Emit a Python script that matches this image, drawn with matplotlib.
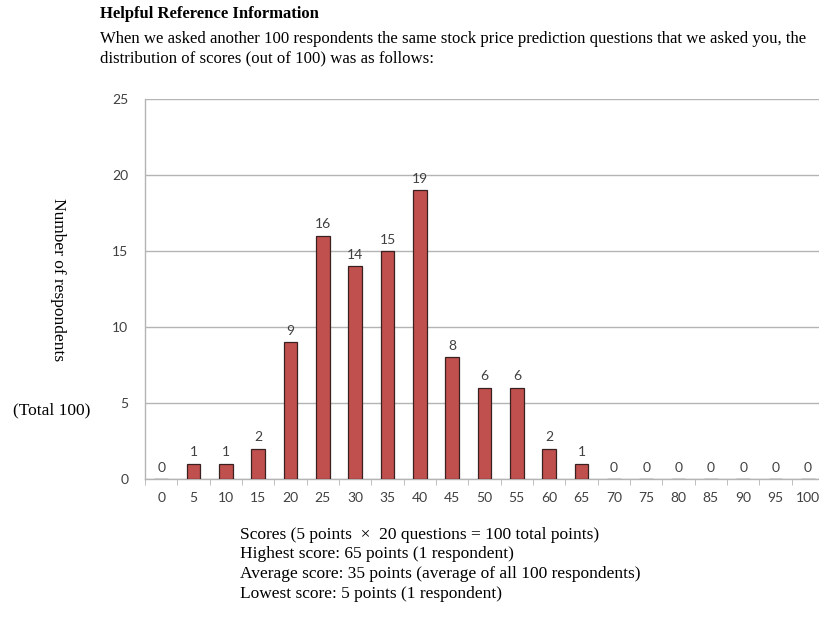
import matplotlib
matplotlib.use('Agg')
from matplotlib import pyplot as plt

# score buckets and how many respondents landed in each
scores = [0, 5, 10, 15, 20, 25, 30, 35, 40, 45, 50, 55, 60, 65, 70, 75, 80, 85, 90, 95, 100]
counts = [0, 1, 1, 2, 9, 16, 14, 15, 19, 8, 6, 6, 2, 1, 0, 0, 0, 0, 0, 0, 0]
y_ticks = [0, 5, 10, 15, 20, 25]

header = 'Helpful Reference Information'
intro = ['When we asked another 100 respondents the same stock price prediction questions that we asked you, the',
         'distribution of scores (out of 100) was as follows:']
notes = ['Scores (5 points  \u00d7  20 questions = 100 total points)',
         'Highest score: 65 points (1 respondent)',
         'Average score: 35 points (average of all 100 respondents)',
         'Lowest score: 5 points (1 respondent)']

serif = ['Liberation Serif', 'DejaVu Serif']
sans = ['Lato', 'DejaVu Sans']
bar_color = '#c0504d'
grid_color = '#b4b4b4'
tick_color = '#404040'

fig = plt.figure(figsize=(8.19, 6.2), dpi=100)
ax = fig.add_axes([145 / 819, 1 - 479 / 620, 679 / 819, 380 / 620])

x = list(range(len(scores)))
ax.bar(x, counts, width=0.43, color=bar_color, edgecolor='#3a2020', linewidth=0.9, zorder=3)

for i, c in zip(x, counts):
    ax.text(i, c + 0.35, str(c), ha='center', va='bottom', fontsize=10,
            color=tick_color, family=sans)

ax.set_xlim(-0.5, len(scores) - 0.5)
ax.set_ylim(0, 25)
ax.set_yticks(y_ticks)
ax.set_yticklabels([str(t) for t in y_ticks], family=sans, fontsize=10, color=tick_color)
ax.yaxis.grid(True, color=grid_color, linewidth=1.0, zorder=0)
ax.tick_params(axis='y', length=0, pad=12)

# category labels, ticks sit on the boundaries between categories
ax.set_xticks(x)
ax.set_xticklabels([str(s) for s in scores], family=sans, fontsize=10, color=tick_color)
ax.tick_params(axis='x', which='major', length=0, pad=9)
ax.set_xticks([i - 0.5 for i in range(len(scores) + 1)], minor=True)
ax.tick_params(axis='x', which='minor', length=4, direction='out', color=grid_color)

for side in ['top', 'right']:
    ax.spines[side].set_visible(False)
ax.spines['left'].set_color(grid_color)
ax.spines['bottom'].set_color(grid_color)
ax.spines['left'].set_linewidth(1.0)
ax.spines['bottom'].set_linewidth(1.0)

fig.text(100 / 819, 1 - 14 / 620, header, fontsize=12, fontweight='bold',
         family=serif, va='center', ha='left')
fig.text(100 / 819, 1 - 39 / 620, intro[0], fontsize=12.1, family=serif, va='center', ha='left')
fig.text(100 / 819, 1 - 58 / 620, intro[1], fontsize=12.1, family=serif, va='center', ha='left')

fig.text(58 / 819, 1 - 280 / 620, 'Number of respondents', rotation=-90, fontsize=12.5,
         family=serif, va='center', ha='center')
fig.text(52 / 819, 1 - 410 / 620, '(Total 100)', fontsize=12.5, family=serif,
         va='center', ha='center')

for k, line in enumerate(notes):
    fig.text(240 / 819, 1 - (535 + k * 19.5) / 620, line, fontsize=12.5, family=serif,
             va='center', ha='left')

fig.savefig('out.png', dpi=100)
